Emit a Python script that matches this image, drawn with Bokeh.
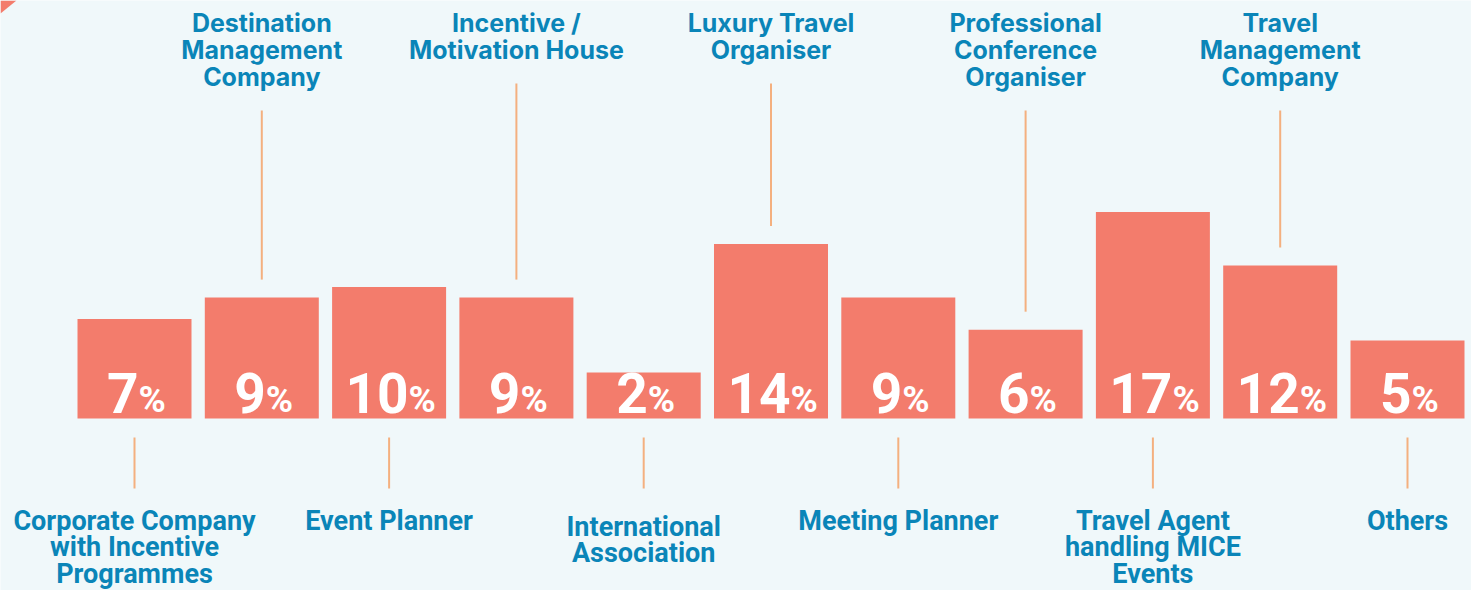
from bokeh.plotting import figure
from bokeh.models import ColumnDataSource, Range1d
from bokeh.core.properties import value
from bokeh.embed import file_html
from bokeh.resources import INLINE

# ---- data ----
categories = [
    "Corporate Company\nwith Incentive\nProgrammes",
    "Destination\nManagement\nCompany",
    "Event Planner",
    "Incentive /\nMotivation House",
    "International\nAssociation",
    "Luxury Travel\nOrganiser",
    "Meeting Planner",
    "Professional\nConference\nOrganiser",
    "Travel Agent\nhandling MICE\nEvents",
    "Travel\nManagement\nCompany",
    "Others",
]
values = [7, 9, 10, 9, 2, 14, 9, 6, 17, 12, 5]

# ---- style / layout ----
BG = "#F0F8FA"
BAR = "#F37C6C"
BLUE = "#0A85B8"
LINK = "#F4B07F"

W, H = 1471, 590
KX = 127.3          # px per category
KY = 10.7           # px per percentage point
BASE = -2.3         # bar baseline in data units
y_start = BASE - (H - 418) / KY
y_end = y_start + H / KY
x_start = -134 / KX
x_end = x_start + W / KX


def fy(px):
    """convert a pixel row (from top) into data units"""
    return y_start + (H - px) / KY


def fx(px):
    """convert a pixel column (from left) into data units"""
    return x_start + px / KX


p = figure(width=W, height=H, output_backend="svg", toolbar_location=None,
           x_range=Range1d(x_start, x_end), y_range=Range1d(y_start, y_end),
           min_border=0, x_axis_location=None, y_axis_location=None,
           background_fill_color=BG, border_fill_color=BG, outline_line_color=None)
p.grid.visible = False

# decorative corner
p.patch(x=[fx(0), fx(16), fx(0)], y=[fy(0), fy(0), fy(13)], fill_color=BAR, line_color=None)

idx = list(range(len(values)))
src = ColumnDataSource(dict(x=idx, top=values, bottom=[BASE] * len(values)))
p.vbar(x="x", top="top", bottom="bottom", width=114 / KX, source=src,
       fill_color=BAR, line_color=None)

# value labels (number + smaller %)
NUM_SIZE, PCT_SIZE, BASELINE = 55, 37, 412
num_off = [(len(str(v)) * 31 - 27) / 2 + 2 for v in values]
vs = ColumnDataSource(dict(x=idx,
                           yn=[fy(BASELINE - 0.35 * NUM_SIZE)] * len(values),
                           yp=[fy(BASELINE - 0.35 * PCT_SIZE)] * len(values),
                           num=[str(v) for v in values], pct=["%"] * len(values),
                           off=num_off))
p.text(x="x", y="yn", text="num", x_offset="off", source=vs, text_font=value("Roboto"),
       text_font_style="bold", text_font_size=f"{NUM_SIZE}px", text_color="white",
       text_align="right", text_baseline="middle")
p.text(x="x", y="yp", text="pct", x_offset="off", source=vs, text_font=value("Roboto"),
       text_font_style="bold", text_font_size=f"{PCT_SIZE}px", text_color="white",
       text_align="left", text_baseline="middle")

# category labels and connectors
ux, uy, ut = [], [], []
dx, dy, dt = [], [], []
sx0, sy0, sx1, sy1 = [], [], [], []
for i, (cat, v) in enumerate(zip(categories, values)):
    lines = cat.split("\n")
    if i % 2 == 1:  # above
        first = 22
        for k, ln in enumerate(lines):
            ux.append(i); uy.append(fy(first + 27 * k)); ut.append(ln)
        link_top = fy(first + 27 * (len(lines) - 1) + 34)
        link_bot = v + 18 / KY
        sx0.append(i); sy0.append(link_top); sx1.append(i); sy1.append(link_bot)
    else:  # below
        first = 526 if len(lines) == 2 else 520
        for k, ln in enumerate(lines):
            dx.append(i); dy.append(fy(first + 26.5 * k)); dt.append(ln)
        sx0.append(i); sy0.append(fy(437)); sx1.append(i); sy1.append(fy(488))

p.segment(x0=sx0, y0=sy0, x1=sx1, y1=sy1, line_color=LINK, line_width=2)
p.text(x=ux, y=uy, text=ut, text_font=value("Inter"), text_font_style="bold",
       text_font_size="25px", text_color=BLUE, text_align="center",
       text_baseline="middle")
p.text(x=dx, y=dy, text=dt, text_font=value("Roboto"), text_font_style="bold",
       text_font_size="27px", text_color=BLUE, text_align="center",
       text_baseline="middle")

open("out.html", "w").write(file_html(p, INLINE))
